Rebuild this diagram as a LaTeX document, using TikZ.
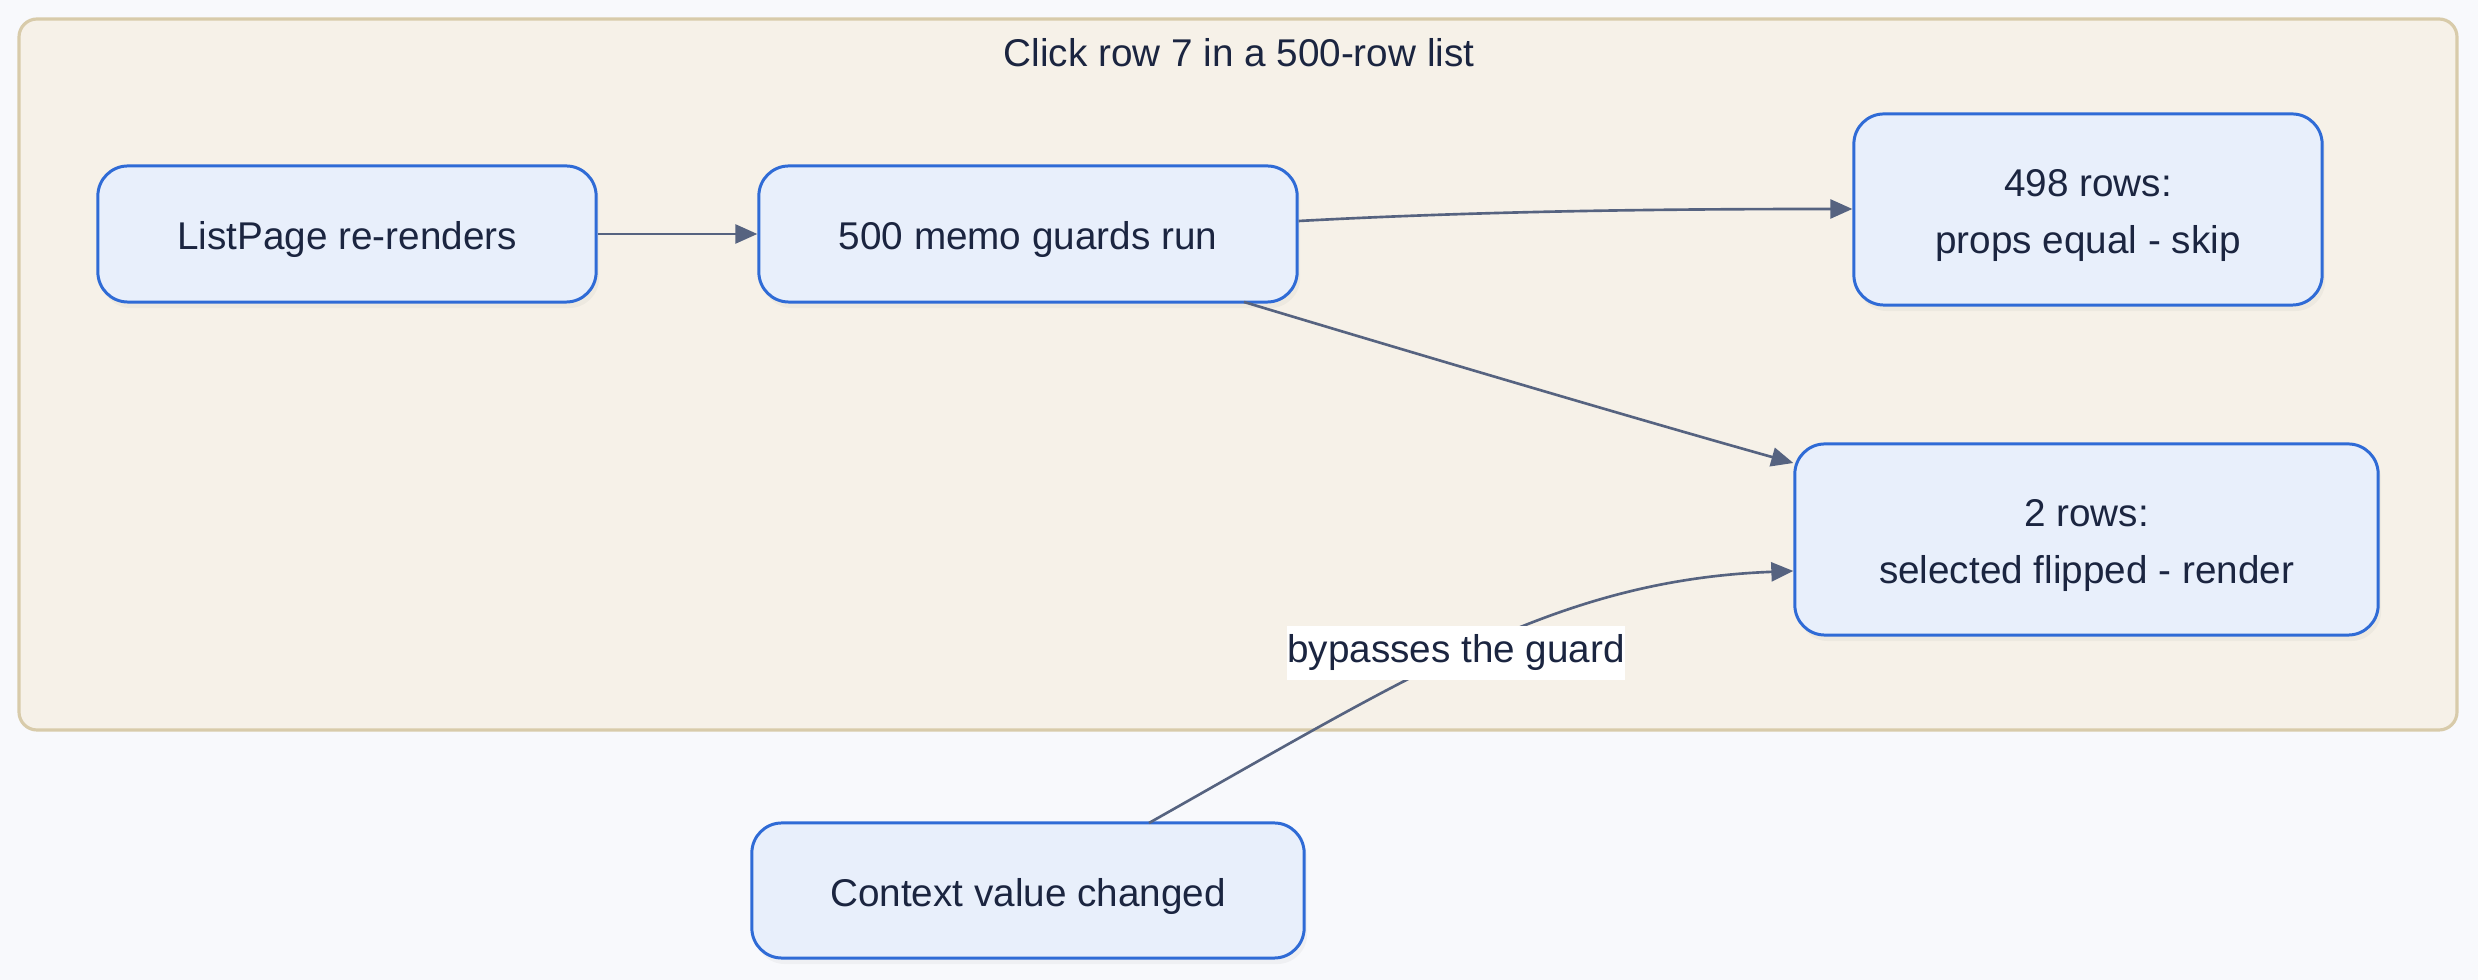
\documentclass[tikz,border=0pt]{standalone}
\usepackage{fontspec}
\setmainfont{Liberation Sans}
\usetikzlibrary{arrows.meta,shadows}
\definecolor{bgcol}{HTML}{F8F9FC}
\definecolor{clfill}{HTML}{F6F1E8}
\definecolor{cldraw}{HTML}{D8CBAA}
\definecolor{ndfill}{HTML}{E8EFFB}
\definecolor{nddraw}{HTML}{2F6BD6}
\definecolor{txtcol}{HTML}{1B2540}
\definecolor{edgecol}{HTML}{566380}
\tikzset{
  box/.style={draw=nddraw, line width=0.85pt, fill=ndfill, rounded corners=0.3cm,
    inner sep=0pt,
    drop shadow={opacity=0.07, shadow xshift=0.03cm, shadow yshift=-0.06cm}},
  boxtext/.style={label={[align=center, text=txtcol, inner sep=0pt, yshift=-0.06cm,
    font=\fontsize{11}{16.2}\selectfont]center:#1}},
  conn/.style={draw=edgecol, line width=0.75pt, -{Triangle[length=0.22cm,width=0.19cm]}},
  elabel/.style={fill=white, inner sep=0pt, text=txtcol, font=\fontsize{11}{14}\selectfont,
    minimum width=3.37cm, minimum height=0.53cm}
}
\begin{document}
\begin{tikzpicture}[x=0.01cm,y=-0.01cm]
\useasboundingbox (0,0) rectangle (2478,980);
\fill[bgcol] (0,0) rectangle (2478,980);
\draw[fill=clfill, draw=cldraw, line width=0.9pt, rounded corners=0.18cm] (19,19) rectangle (2457,730);
\node[text=txtcol, font=\fontsize{11}{14}\selectfont] (title) at (1239,53) {Click row 7 in a 500-row list};

\node[box, minimum width=4.98cm, minimum height=1.36cm, boxtext={ListPage re-renders}] (lp) at (347,234) {};
\node[box, minimum width=5.38cm, minimum height=1.36cm, boxtext={500 memo guards run}] (mg) at (1028,234) {};
\node[box, minimum width=4.68cm, minimum height=1.91cm, boxtext={498 rows:\\props equal - skip}] (r498) at (2088,209.5) {};
\node[box, minimum width=5.83cm, minimum height=1.91cm, boxtext={2 rows:\\selected flipped - render}] (r2) at (2086.5,539.5) {};
\node[box, minimum width=5.52cm, minimum height=1.35cm, boxtext={Context value changed}] (cv) at (1028,890.5) {};

\draw[conn] (lp.east) -- (mg.west);
\draw[conn] (mg.east |- 0,221) .. controls (1500,210) and (1700,209) .. (r498.west |- 0,209);
\draw[conn] (1244,302) .. controls (1420,355) and (1640,420) .. (r2.west |- 0,463);
\draw[conn] (1149,823) .. controls (1420,670) and (1560,580) .. (r2.west |- 0,571);
\node[elabel] (bl) at (1456,653) {bypasses the guard};
\end{tikzpicture}
\end{document}
